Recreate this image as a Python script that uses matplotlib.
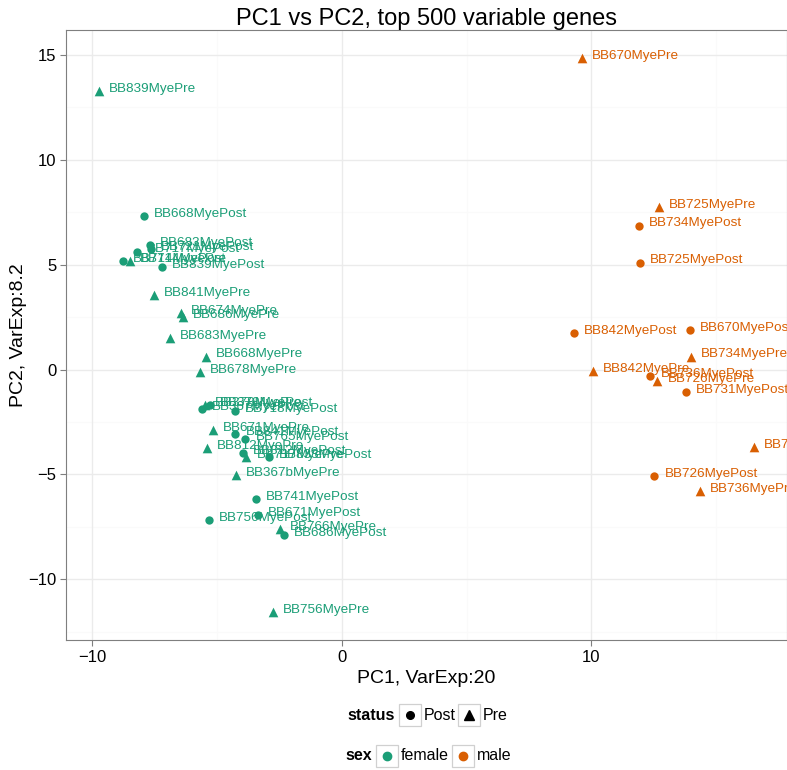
import matplotlib
matplotlib.use("Agg")
import matplotlib.pyplot as plt
from matplotlib.patches import Rectangle
from matplotlib.lines import Line2D

plt.rcParams['font.family'] = ['Liberation Sans', 'DejaVu Sans']

# ---- data ----
samples = [
    "BB839MyePre", "BB668MyePost", "BB683MyePost", "BB721MyePost", "BB717MyePost",
    "BB714MyePost", "BB714MyePre", "BB839MyePost", "BB841MyePre", "BB674MyePre",
    "BB686MyePre", "BB683MyePre", "BB668MyePre", "BB678MyePre", "BB367MyePost",
    "BB378MyePre", "BB378MyePost", "BB718MyePost", "BB671MyePre", "BB841MyePost",
    "BB765MyePost", "BB812MyePre", "BB812MyePost", "BB717MyePre", "BB833MyePost",
    "BB367bMyePre", "BB741MyePost", "BB671MyePost", "BB756MyePost", "BB766MyePre",
    "BB686MyePost", "BB756MyePre",
    "BB670MyePre", "BB725MyePre", "BB734MyePost", "BB725MyePost", "BB842MyePost",
    "BB670MyePost", "BB734MyePre", "BB842MyePre", "BB736MyePost", "BB726MyePre",
    "BB731MyePost", "BB731MyePre", "BB726MyePost", "BB736MyePre",
]
pc1 = [
    -9.74, -7.94, -7.67, -7.66, -8.19,
    -8.77, -8.47, -7.20, -7.54, -6.45,
    -6.37, -6.89, -5.45, -5.69, -5.62,
    -5.49, -5.29, -4.29, -5.16, -4.26,
    -3.86, -5.42, -3.96, -3.82, -2.93,
    -4.25, -3.45, -3.35, -5.32, -2.48,
    -2.31, -2.77,
    9.62, 12.71, 11.90, 11.94, 9.31,
    13.95, 13.99, 10.05, 12.37, 12.65,
    13.79, 16.53, 12.53, 14.35,
]
pc2 = [
    13.29, 7.33, 5.95, 5.76, 5.62,
    5.19, 5.19, 4.90, 3.57, 2.71,
    2.48, 1.48, 0.62, -0.10, -1.87,
    -1.71, -1.71, -2.00, -2.90, -3.06,
    -3.33, -3.73, -3.98, -4.17, -4.17,
    -5.05, -6.16, -6.95, -7.16, -7.59,
    -7.90, -11.57,
    14.86, 7.76, 6.86, 5.10, 1.73,
    1.90, 0.62, -0.08, -0.29, -0.56,
    -1.08, -3.70, -5.08, -5.80,
]
sex = ["female"] * 32 + ["male"] * 14
status = ["Pre" if s.endswith("Pre") else "Post" for s in samples]

title = "PC1 vs PC2, top 500 variable genes"
xlabel = "PC1, VarExp:20"
ylabel = "PC2, VarExp:8.2"
xticks = [-10, 0, 10]
yticks = [-10, -5, 0, 5, 10, 15]

sex_colors = {"female": "#1B9E77", "male": "#D95F02"}
status_markers = {"Post": "o", "Pre": "^"}
status_sizes = {"Post": 36, "Pre": 48}

W, H = 787, 770
fig = plt.figure(figsize=(W / 100, H / 100), dpi=100)
ax = fig.add_axes([66 / W, 1 - 640 / H, (787 - 66) / W, (640 - 30) / H])

# grid
for v in [-5, 5, 15]:
    ax.axvline(v, color="#FAFAFA", lw=0.8, zorder=0)
for v in [-12.5, -7.5, -2.5, 2.5, 7.5, 12.5]:
    ax.axhline(v, color="#FAFAFA", lw=0.8, zorder=0)
for v in xticks:
    ax.axvline(v, color="#EBEBEB", lw=1.0, zorder=0)
for v in yticks:
    ax.axhline(v, color="#EBEBEB", lw=1.0, zorder=0)

for sx in ["female", "male"]:
    for st in ["Post", "Pre"]:
        xs = [x for x, a, b in zip(pc1, sex, status) if a == sx and b == st]
        ys = [y for y, a, b in zip(pc2, sex, status) if a == sx and b == st]
        ax.scatter(xs, ys, s=status_sizes[st], marker=status_markers[st],
                   color=sex_colors[sx], linewidths=0, zorder=3)

for x, y, lab, sx in zip(pc1, pc2, samples, sex):
    ax.text(x + 0.4, y + 0.1, lab, color=sex_colors[sx], fontsize=9.7,
            ha="left", va="center", zorder=4)

ax.set_xlim(-11.05, 17.84)
ax.set_ylim(-12.89, 16.18)
ax.set_xticks(xticks)
ax.set_yticks(yticks)
ax.set_xticklabels(["\u221210", "0", "10"])
ax.set_yticklabels(["\u221210", "\u22125", "0", "5", "10", "15"])
ax.tick_params(axis="both", colors="#7F7F7F", length=4, width=0.8,
               labelsize=12, labelcolor="black", pad=3)
for sp in ax.spines.values():
    sp.set_color("#7F7F7F")
    sp.set_linewidth(0.8)

ax.set_title(title, fontsize=17, pad=3)
ax.set_xlabel(xlabel, fontsize=14, labelpad=4)
ax.set_ylabel(ylabel, fontsize=14, labelpad=1)

# ---- legends (drawn at bottom like ggplot) ----
def fx(px):
    return px / W

def fy(py):
    return 1 - py / H

def key_box(x0, y0, marker, color, ms):
    fig.add_artist(Rectangle((fx(x0), fy(y0 + 22)), 22 / W, 22 / H,
                             transform=fig.transFigure, facecolor="white",
                             edgecolor="#D0D0D0", lw=0.9))
    fig.add_artist(Line2D([fx(x0 + 11)], [fy(y0 + 11)], marker=marker,
                          color=color, markersize=ms, lw=0,
                          transform=fig.transFigure))

row1 = 715
fig.text(fx(395), fy(row1), "status", fontsize=11.5, fontweight="bold",
         ha="right", va="center")
key_box(399, 704, "o", "black", 5.5)
fig.text(fx(424), fy(row1), "Post", fontsize=11.5, ha="left", va="center")
key_box(458, 704, "^", "black", 7)
fig.text(fx(483), fy(row1), "Pre", fontsize=11.5, ha="left", va="center")

row2 = 756
fig.text(fx(372), fy(row2), "sex", fontsize=11.5, fontweight="bold",
         ha="right", va="center")
key_box(376, 745, "o", sex_colors["female"], 6)
fig.text(fx(401), fy(row2), "female", fontsize=11.5, ha="left", va="center")
key_box(452, 745, "o", sex_colors["male"], 6)
fig.text(fx(477), fy(row2), "male", fontsize=11.5, ha="left", va="center")

fig.savefig("out.png", dpi=100)
